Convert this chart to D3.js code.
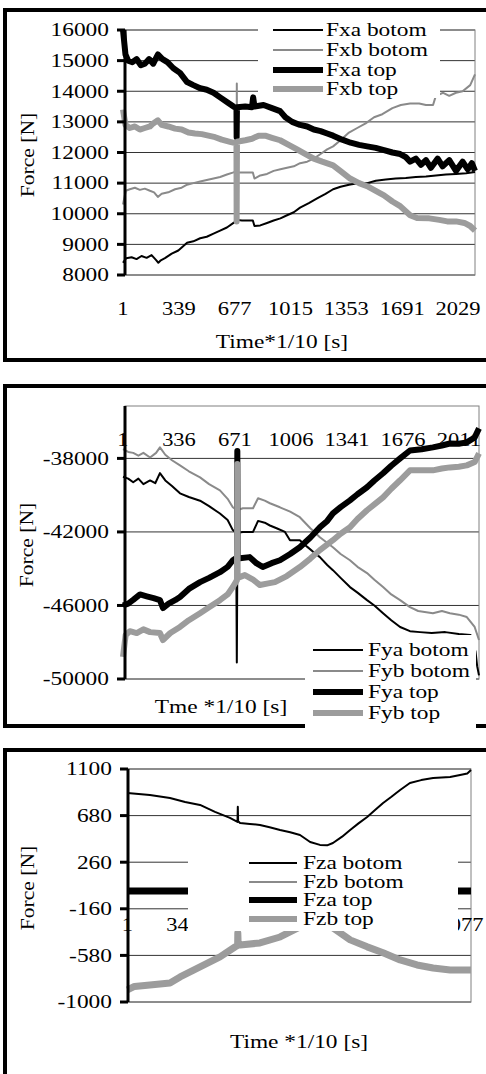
<!DOCTYPE html>
<html>
<head>
<meta charset="utf-8">
<script src="https://cdn.jsdelivr.net/npm/d3@7"></script>
<style>
  body { margin: 0; background: #fff; }
  svg { display: block; }
  text { font-family: "Liberation Serif", "Times New Roman", serif; font-size: 18px; fill: #000; }
</style>
</head>
<body>
<svg id="chart" width="486" height="1074"></svg>
<script>
// ---- panel 1 : Fx ----
const xTicks1 = [1, 339, 677, 1015, 1353, 1691, 2029];
const yTicks1 = [8000, 9000, 10000, 11000, 12000, 13000, 14000, 15000, 16000];
const namesX = ["Fxa botom", "Fxb botom", "Fxa top", "Fxb top"];
const fxaBotom = [[1,8400],[20,8550],[53,8580],[83,8520],[113,8620],[144,8560],[174,8650],[199,8500],[215,8400],[230,8480],[255,8550],[296,8700],[336,8800],[389,9050],[427,9100],[468,9200],[508,9250],[549,9350],[589,9450],[630,9550],[670,9700],[691,9800],[721,9780],[787,9780],[797,9600],[832,9620],[873,9700],[913,9780],[954,9850],[994,9950],[1035,10050],[1073,10200],[1126,10350],[1176,10500],[1227,10650],[1273,10800],[1318,10880],[1369,10950],[1430,11000],[1480,11000],[1531,11080],[1592,11120],[1652,11150],[1713,11170],[1774,11200],[1835,11220],[1895,11250],[1956,11280],[2017,11300],[2078,11320],[2132,11360]];
const fxbBotom = [[1,10300],[18,10750],[42,10800],[73,10850],[103,10780],[133,10820],[164,10750],[189,10700],[212,10550],[235,10650],[275,10700],[316,10800],[356,10850],[389,10950],[427,11000],[468,11050],[508,11100],[549,11150],[589,11200],[630,11280],[670,11350],[689,11400],[690,14250],[692,11350],[787,11350],[797,11150],[832,11250],[873,11300],[913,11400],[954,11450],[994,11500],[1035,11550],[1073,11650],[1116,11700],[1156,11800],[1197,11950],[1237,12100],[1273,12200],[1318,12400],[1369,12650],[1419,12800],[1470,12950],[1521,13150],[1571,13250],[1632,13450],[1683,13550],[1739,13600],[1794,13600],[1835,13550],[1878,13550],[1895,13850],[1939,13950],[1976,13850],[2017,13950],[2057,14000],[2103,14200],[2132,14550]];
const fxaTop = [[1,16000],[16,15200],[32,15000],[58,14950],[83,15050],[109,14850],[133,14900],[159,15050],[184,14900],[212,15200],[240,15050],[270,14950],[306,14750],[346,14600],[389,14300],[427,14200],[468,14100],[508,14050],[549,13950],[589,13800],[630,13650],[670,13500],[688,13450],[689,12500],[691,13480],[741,13500],[782,13480],[789,13800],[797,13500],[852,13550],[903,13450],[952,13350],[984,13150],[1025,13000],[1073,12900],[1116,12850],[1156,12750],[1197,12700],[1237,12620],[1273,12550],[1328,12420],[1379,12320],[1430,12250],[1479,12200],[1531,12150],[1581,12080],[1632,12000],[1679,11950],[1713,11850],[1739,11700],[1774,11800],[1805,11600],[1835,11750],[1865,11500],[1906,11800],[1936,11550],[1976,11750],[2017,11400],[2057,11700],[2088,11450],[2113,11650],[2132,11400]];
const fxbTop = [[1,13400],[16,12900],[42,12800],[73,12850],[103,12750],[133,12800],[164,12850],[184,12950],[212,13050],[235,12900],[275,12850],[316,12780],[356,12750],[397,12650],[437,12620],[478,12600],[518,12550],[559,12500],[599,12420],[649,12350],[688,12300],[689,9750],[691,12350],[741,12400],[782,12450],[822,12550],[862,12550],[903,12480],[952,12400],[1004,12250],[1055,12100],[1106,11950],[1156,11800],[1207,11700],[1273,11580],[1328,11350],[1376,11150],[1430,11000],[1479,10900],[1531,10750],[1581,10600],[1632,10400],[1679,10250],[1739,9950],[1781,9860],[1855,9850],[1916,9800],[1964,9750],[2017,9750],[2068,9700],[2103,9600],[2132,9450]];

// ---- panel 2 : Fy ----
const xTicks2 = [1, 336, 671, 1006, 1341, 1676, 2011];
const yTicks2 = [-50000, -46000, -42000, -38000];
const namesY = ["Fya botom", "Fyb botom", "Fya top", "Fyb top"];
const fyaBotom = [[1,-39000],[32,-39100],[62,-39300],[93,-39100],[123,-39400],[163,-39200],[194,-39350],[222,-38800],[254,-39200],[294,-39500],[342,-39900],[395,-40100],[462,-40300],[516,-40600],[581,-41000],[627,-41350],[658,-41900],[678,-42050],[682,-49100],[686,-42050],[718,-42000],[779,-42000],[809,-41400],[849,-41500],[880,-41650],[920,-41800],[970,-42000],[1000,-42450],[1059,-42450],[1102,-42800],[1142,-43100],[1179,-43370],[1223,-43800],[1257,-44080],[1303,-44500],[1359,-45000],[1404,-45300],[1461,-45710],[1505,-46000],[1557,-46420],[1606,-46800],[1659,-47170],[1718,-47400],[1778,-47450],[1848,-47500],[1929,-47450],[2010,-47550],[2080,-47600],[2110,-48500],[2120,-49300],[2131,-49800]];
const fybBotom = [[1,-37500],[32,-37650],[62,-37700],[93,-37850],[123,-37700],[163,-37950],[199,-37700],[222,-37400],[254,-37800],[294,-38100],[342,-38380],[395,-38700],[462,-39030],[516,-39400],[581,-39740],[627,-40200],[658,-40660],[683,-40820],[718,-40710],[779,-40710],[809,-40170],[849,-40300],[880,-40440],[940,-40660],[1001,-40900],[1059,-41200],[1122,-41800],[1179,-42290],[1257,-42830],[1303,-43200],[1359,-43540],[1404,-43900],[1461,-44240],[1505,-44600],[1557,-45000],[1606,-45400],[1659,-45710],[1718,-46090],[1767,-46300],[1855,-46420],[1909,-46300],[1957,-46420],[2010,-46500],[2058,-46630],[2105,-47170],[2131,-47880]];
const fyaTop = [[1,-46000],[32,-45900],[62,-45700],[103,-45400],[143,-45500],[184,-45600],[222,-45710],[240,-46140],[274,-45900],[315,-45700],[342,-45540],[395,-45100],[462,-44730],[516,-44500],[581,-44190],[627,-43900],[658,-43540],[683,-43400],[685,-37600],[687,-43450],[700,-43430],[759,-43370],[799,-43700],[837,-43910],[890,-43700],[940,-43540],[1001,-43200],[1059,-42830],[1122,-42300],[1179,-41750],[1223,-41400],[1257,-40990],[1303,-40650],[1359,-40280],[1404,-39950],[1461,-39570],[1505,-39200],[1557,-38810],[1606,-38400],[1659,-38000],[1718,-37570],[1788,-37500],[1855,-37400],[1909,-37300],[1957,-37190],[2010,-37200],[2058,-37130],[2105,-36860],[2131,-36370]];
const fybTop = [[1,-48800],[17,-47600],[42,-47400],[83,-47500],[123,-47300],[163,-47450],[222,-47500],[240,-47880],[284,-47500],[342,-47170],[395,-46800],[462,-46420],[516,-46100],[581,-45710],[627,-45400],[658,-45000],[683,-44620],[685,-38300],[687,-44500],[730,-44350],[779,-44600],[820,-44890],[870,-44800],[910,-44730],[981,-44400],[1059,-43910],[1122,-43450],[1179,-42990],[1257,-42450],[1303,-42100],[1359,-41750],[1404,-41300],[1461,-40820],[1505,-40500],[1557,-40120],[1606,-39650],[1659,-39190],[1718,-38650],[1788,-38650],[1855,-38650],[1909,-38550],[1957,-38490],[2010,-38450],[2058,-38380],[2105,-38200],[2131,-37730]];

// ---- panel 3 : Fz ----
const xTicks3 = [1, 347, 693, 1039, 1385, 1731, 2077];
const yTicks3 = [-1000, -580, -160, 260, 680, 1100];
const namesZ = ["Fza botom", "Fzb botom", "Fza top", "Fzb top"];
const fzaBotom = [[1,884],[141,866],[266,839],[360,803],[453,776],[546,713],[639,659],[686,623],[688,760],[690,630],[702,614],[763,605],[826,596],[886,575],[951,551],[1014,530],[1075,505],[1138,442],[1199,416],[1244,412],[1280,433],[1337,490],[1387,551],[1439,610],[1493,668],[1542,730],[1592,794],[1644,850],[1698,911],[1759,974],[1829,1000],[1903,1019],[2009,1028],[2071,1046],[2116,1060],[2139,1091]];
const fzbBotom = [[1,0],[2139,0]];
const fzaTop = [[1,0],[2139,0]];
const fzbTop = [[1,-891],[45,-860],[141,-846],[266,-828],[329,-774],[453,-684],[577,-594],[670,-504],[687,-490],[688,-377],[690,-470],[702,-486],[826,-468],[951,-414],[1075,-323],[1138,-288],[1199,-288],[1280,-332],[1387,-440],[1493,-503],[1592,-557],[1698,-621],[1803,-666],[1903,-693],[2009,-711],[2139,-711]];

const panels = [
  { series: [fxaBotom, fxbBotom, fxaTop, fxbTop], names: namesX, n: 2132, x0: 123,
    yDomain: [8000, 16000], yTicks: yTicks1, xTicks: xTicks1, axisAt: 8000,
    xTitle: "Time*1/10 [s]", frame: [5, 10, 500, 350],
    plot: { l: 125, r: 475, t: 30, b: 275 }, thick: 6,
    xTitlePos: [282, 342], yTitlePos: [28, 155],
    legend: { x0: 258, x1: 440, y0: 18, y1: 98, lx0: 273, lx1: 323, tx: 326, rows: [30, 50, 70, 89] } },
  { series: [fyaBotom, fybBotom, fyaTop, fybTop], names: namesY, n: 2131, x0: 123,
    yDomain: [-50000, -35150], yTicks: yTicks2, xTicks: xTicks2, axisAt: -35150,
    xTitle: "Tme *1/10 [s]", frame: [5, 386, 500, 340],
    plot: { l: 125, r: 479, t: 406, b: 679 }, thick: 6,
    xTitlePos: [221, 707], yTitlePos: [27, 545],
    legend: { x0: 305, x1: 476, y0: 635, y1: 731, lx0: 313, lx1: 363, tx: 368, rows: [650, 671, 692, 713] } },
  { series: [fzaBotom, fzbBotom, fzaTop, fzbTop], names: namesZ, n: 2139, x0: 127.4,
    yDomain: [-1000, 1100], yTicks: yTicks3, xTicks: xTicks3, axisAt: 0,
    xTitle: "Time *1/10 [s]", frame: [5, 750, 500, 400],
    plot: { l: 128, r: 471, t: 769, b: 1002 }, thick: 7,
    xTitlePos: [299, 1042], yTitlePos: [28, 888],
    legend: { x0: 188, x1: 458, y0: 851, y1: 931, lx0: 249, lx1: 297, tx: 303, rows: [863, 882, 900, 919] } }
];

const svg = d3.select("#chart");

// stretched serif text like the scanned original
function txt(g, s, x, y, anchor, sx, rotate) {
  return g.append("text")
    .attr("transform", `translate(${x},${y})${rotate ? " rotate(-90)" : ""} scale(${sx},1)`)
    .attr("text-anchor", anchor)
    .attr("dy", "0.35em")
    .text(s);
}

panels.forEach(p => {
  const g = svg.append("g");
  const x = d3.scaleLinear().domain([1, p.n]).range([p.x0, p.plot.r]);
  const y = d3.scaleLinear().domain(p.yDomain).range([p.plot.b, p.plot.t]);
  const styles = [
    { c: "#000", w: 2 }, { c: "#8a8a8a", w: 2 },
    { c: "#000", w: p.thick }, { c: "#9c9c9c", w: p.thick }
  ];

  // outer frame
  g.append("rect")
    .attr("x", p.frame[0]).attr("y", p.frame[1])
    .attr("width", p.frame[2]).attr("height", p.frame[3])
    .attr("fill", "none").attr("stroke", "#000").attr("stroke-width", 4);

  // gridlines
  g.selectAll(".grid").data(p.yTicks).enter().append("line")
    .attr("x1", p.plot.l).attr("x2", p.plot.r)
    .attr("y1", d => y(d)).attr("y2", d => y(d))
    .attr("stroke", "#333").attr("stroke-width", 1);

  g.append("rect")
    .attr("x", p.plot.l).attr("y", p.plot.t)
    .attr("width", p.plot.r - p.plot.l).attr("height", p.plot.b - p.plot.t)
    .attr("fill", "none").attr("stroke", "#808080").attr("stroke-width", 1);

  // category labels (drawn under the series)
  const ly = y(p.axisAt) + 34;
  p.xTicks.forEach(t => txt(g, String(t), x(t), ly, "middle", 1.25));

  // series
  const line = d3.line().x(d => x(d[0])).y(d => y(d[1]));
  p.series.forEach((s, i) => {
    g.append("path").datum(s)
      .attr("d", line)
      .attr("fill", "none")
      .attr("stroke", styles[i].c)
      .attr("stroke-width", styles[i].w)
      .attr("stroke-linejoin", "round");
  });

  // value axis
  g.append("line")
    .attr("x1", p.plot.l).attr("x2", p.plot.l)
    .attr("y1", p.plot.t).attr("y2", p.plot.b)
    .attr("stroke", "#000").attr("stroke-width", 3);
  p.yTicks.forEach(t => {
    g.append("line")
      .attr("x1", p.plot.l - 8).attr("x2", p.plot.l)
      .attr("y1", y(t)).attr("y2", y(t))
      .attr("stroke", "#000").attr("stroke-width", 3);
    txt(g, String(t), p.plot.l - 16, y(t), "end", 1.3);
  });

  // legend
  const L = p.legend;
  g.append("rect")
    .attr("x", L.x0).attr("y", L.y0)
    .attr("width", L.x1 - L.x0).attr("height", L.y1 - L.y0)
    .attr("fill", "#fff");
  p.names.forEach((name, i) => {
    g.append("line")
      .attr("x1", L.lx0).attr("x2", L.lx1)
      .attr("y1", L.rows[i]).attr("y2", L.rows[i])
      .attr("stroke", styles[i].c)
      .attr("stroke-width", i < 2 ? 2 : 6);
    txt(g, name, L.tx, L.rows[i], "start", 1.3);
  });

  // axis titles
  txt(g, p.xTitle, p.xTitlePos[0], p.xTitlePos[1], "middle", 1.3);
  txt(g, "Force [N]", p.yTitlePos[0], p.yTitlePos[1], "middle", 1.2, true);
});
</script>
</body>
</html>
